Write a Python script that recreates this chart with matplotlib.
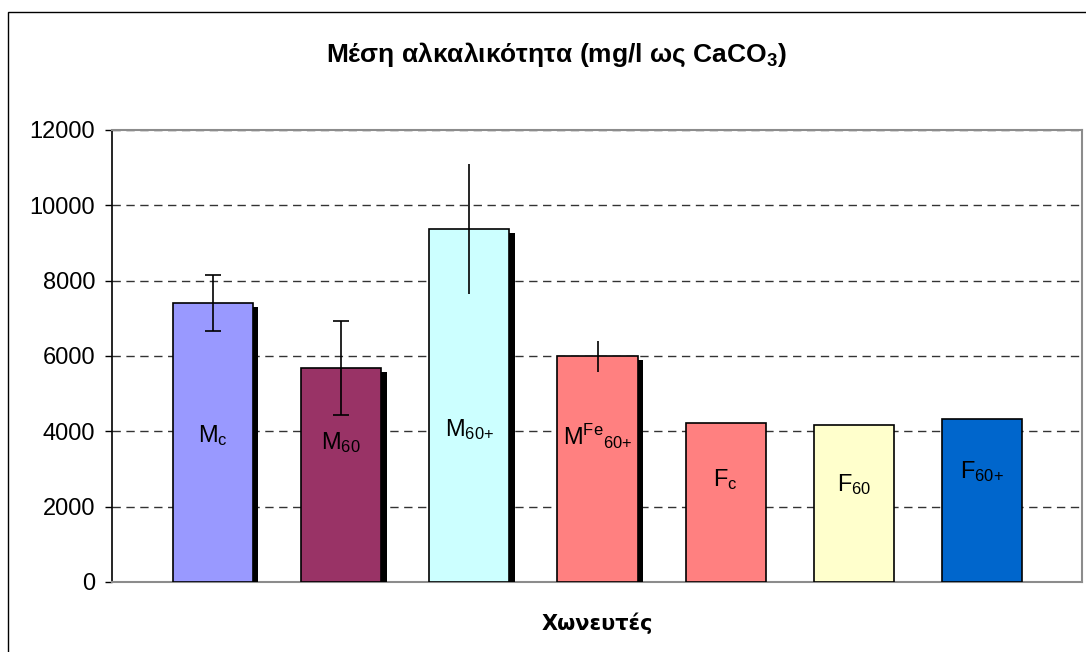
import numpy as np
import matplotlib
matplotlib.use("Agg")
import matplotlib.pyplot as plt
from matplotlib.patches import Rectangle
import matplotlib.patheffects as pe

plt.rcParams["font.family"] = ["Liberation Sans", "DejaVu Sans"]
plt.rcParams["mathtext.fontset"] = "custom"
plt.rcParams["mathtext.rm"] = "Liberation Sans"
plt.rcParams["mathtext.it"] = "Liberation Sans:italic"
plt.rcParams["mathtext.bf"] = "Liberation Sans:bold"
plt.rcParams["mathtext.default"] = "regular"

# Mean alkalinity per digester (mg/l as CaCO3)
groups = ["M$_{c}$", "M$_{60}$", "M$_{60{+}}$", "M$^{Fe}{}_{60{+}}$",
          "F$_{c}$", "F$_{60}$", "F$_{60{+}}$"]
means = [7410, 5680, 9370, 5990, 4210, 4180, 4340]
errors = [750, 1240, 1720, 410, 0, 0, 0]
colors = ["#9999FF", "#993366", "#CCFFFF", "#FF8080",
          "#FF8080", "#FFFFCC", "#0066CC"]
shadowed = [True, True, True, True, False, False, False]
capped = [True, True, False, False, False, False, False]
has_error = [True, True, True, True, False, False, False]
label_base = [3725, 3523, 3885, 3642, 2556, 2405, 2766]

W, H = 1086, 652
fig = plt.figure(figsize=(W / 100, H / 100), dpi=100)
fig.patch.set_facecolor("white")

# outer chart frame
fig.patches.append(Rectangle((8 / W, -0.5), 2.0, 0.5 + 1 - 12 / H,
                             transform=fig.transFigure, fill=False,
                             edgecolor="black", linewidth=1.0, zorder=0))

left, right, top, bottom = 112, 1082, 130, 582
ax = fig.add_axes([left / W, 1 - bottom / H, (right - left) / W, (bottom - top) / H])

x = np.arange(len(means))
for i in x:
    bar = ax.bar(x[i], means[i], width=0.625, color=colors[i],
                 edgecolor="black", linewidth=1.2, zorder=3)[0]
    if shadowed[i]:
        bar.set_path_effects([
            pe.SimplePatchShadow(offset=(3.8, -2.9), shadow_rgbFace="black", alpha=1.0),
            pe.Normal(),
        ])

for i in x:
    if has_error[i]:
        ax.errorbar(x[i], means[i], yerr=errors[i], fmt="none", ecolor="black",
                    elinewidth=1.2, capsize=5.5 if capped[i] else 0,
                    capthick=1.2, zorder=4)

for i in x:
    ax.text(x[i], label_base[i], groups[i], ha="center", va="baseline",
            fontsize=17, color="black", zorder=5)

ax.set_xlim(-0.788, 6.78)
ax.set_ylim(0, 12000)
ax.set_yticks(np.arange(0, 12001, 2000))
ax.set_xticks([])
ax.tick_params(axis="y", direction="out", length=5, width=1, pad=7,
               labelsize=17, colors="black")
ax.yaxis.grid(True, color="#333333", linestyle=(0, (6, 4)), linewidth=1.0)
ax.set_axisbelow(True)

for side in ["top", "right", "bottom"]:
    ax.spines[side].set_color("#8c8c8c")
    ax.spines[side].set_linewidth(1.5)
ax.spines["left"].set_color("black")
ax.spines["left"].set_linewidth(1.2)

fig.text(556 / W, 1 - 62 / H, "Μέση αλκαλικότητα (mg/l ως CaCO$\\mathbf{_3}$)",
         ha="center", va="baseline", fontsize=19, fontweight="bold")
fig.text(597 / W, 1 - 630 / H, "Χωνευτές", ha="center", va="baseline",
         fontsize=15, fontweight="bold", family=["DejaVu Sans"])

fig.savefig("out.png", dpi=100, facecolor="white")
